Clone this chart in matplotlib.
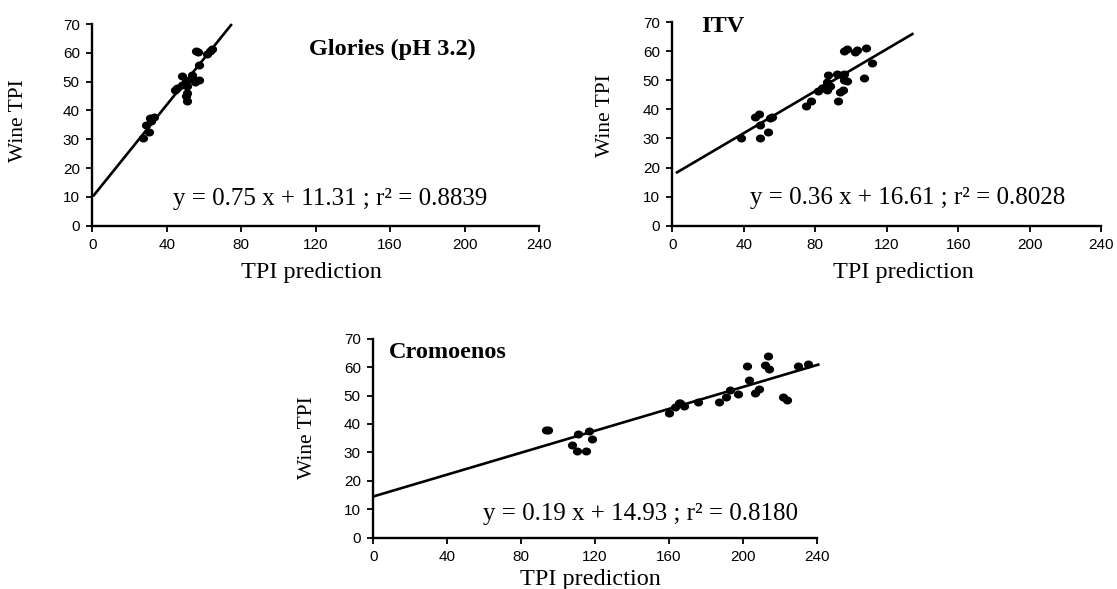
import numpy as np
import matplotlib.pyplot as plt

# Glories (pH 3.2)
glories_x = [27.0, 28.8, 30.4, 31.0, 33.1, 31.5, 44.4, 45.7, 48.0, 48.0, 50.3, 51.0,
             51.0, 50.7, 53.4, 53.9, 55.1, 57.5, 57.5, 56.0, 57.0, 61.4, 63.2, 64.6, 50.5]
glories_y = [30.3, 34.8, 32.5, 37.4, 37.6, 36.2, 47.0, 47.7, 52.0, 48.9, 50.3, 48.5,
             46.2, 43.2, 52.4, 50.9, 49.9, 50.5, 55.8, 60.5, 60.2, 59.7, 60.8, 61.2, 45.0]
glories_fit_x = [0.4, 75.0]
glories_fit_y = [10.2, 70.0]

# ITV
itv_x = [38.5, 46.3, 48.6, 49.1, 49.1, 53.8, 54.7, 55.6, 74.9, 77.7, 81.8, 83.6, 85.5,
         86.4, 87.3, 88.3, 86.8, 92.1, 92.6, 93.9, 95.4, 94.8, 96.1, 96.1, 97.6, 96.1,
         97.6, 102.3, 103.2, 108.5, 107.5, 111.7]
itv_y = [30.2, 37.5, 38.3, 34.6, 30.2, 32.3, 36.9, 37.5, 41.1, 43.0, 46.4, 47.2, 47.5,
         49.4, 51.7, 48.0, 46.8, 52.0, 43.0, 45.8, 46.6, 51.7, 52.0, 50.2, 49.7, 60.1,
         60.6, 59.8, 60.4, 61.2, 50.6, 55.8]
itv_fit_x = [2.0, 135.0]
itv_fit_y = [18.1, 66.1]

# Cromoenos
crom_x = [93.4, 94.7, 107.4, 111.0, 110.5, 115.0, 116.8, 118.5, 160.1, 163.3, 165.6,
          166.2, 168.2, 175.9, 187.3, 190.9, 193.1, 197.6, 202.1, 203.6, 206.6, 208.9,
          212.0, 213.8, 214.3, 221.9, 223.8, 230.0, 235.5]
crom_y = [38.0, 37.9, 32.6, 36.4, 30.6, 30.6, 37.6, 34.7, 43.7, 46.1, 47.3,
          47.5, 46.4, 47.8, 47.8, 49.6, 52.0, 50.5, 60.4, 55.5, 51.0, 52.2,
          60.7, 63.9, 59.2, 49.6, 48.4, 60.4, 61.1]
crom_fit_x = [0.0, 241.5]
crom_fit_y = [14.5, 61.0]

x_ticks = [0, 40, 80, 120, 160, 200, 240]
y_ticks = [0, 10, 20, 30, 40, 50, 60, 70]

panels = [
    dict(pos=[0.0826, 0.6168, 0.3999, 0.3424], x=glories_x, y=glories_y,
         fx=glories_fit_x, fy=glories_fit_y, title='Glories (pH 3.2)',
         tpos=(161, 61.2), tha='center', eq='y = 0.75 x + 11.31 ; r² = 0.8839',
         epos=(128, 9.3), xl=(0.49, -0.18), yl=(-0.144, 0.52)),
    dict(pos=[0.6019, 0.6168, 0.3838, 0.3458], x=itv_x, y=itv_y,
         fx=itv_fit_x, fy=itv_fit_y, title='ITV',
         tpos=(16, 68.4), tha='left', eq='y = 0.36 x + 16.61 ; r² = 0.8028',
         epos=(131.7, 9.4), xl=(0.54, -0.178), yl=(-0.133, 0.54)),
    dict(pos=[0.3342, 0.0871, 0.3970, 0.3379], x=crom_x, y=crom_y,
         fx=crom_fit_x, fy=crom_fit_y, title='Cromoenos',
         tpos=(8.3, 65.1), tha='left', eq='y = 0.19 x + 14.93 ; r² = 0.8180',
         epos=(144.6, 8.5), xl=(0.49, -0.155), yl=(-0.126, 0.505)),
]

serif = 'Liberation Serif'
sans = 'Liberation Sans'

t = np.linspace(0, 2 * np.pi, 40)
dot = np.column_stack([1.15 * np.cos(t), np.sin(t)])

fig = plt.figure(figsize=(11.17, 5.89), dpi=100)

for p in panels:
    ax = fig.add_axes(p['pos'])
    ax.scatter(p['x'], p['y'], marker=dot, s=44, color='black', linewidths=0, zorder=3)
    ax.plot(p['fx'], p['fy'], color='black', lw=1.9, clip_on=False, solid_capstyle='butt')
    ax.set_xlim(0, 240)
    ax.set_ylim(0, 70)
    ax.set_xticks(x_ticks)
    ax.set_yticks(y_ticks)
    for s in ['top', 'right']:
        ax.spines[s].set_visible(False)
    for s in ['left', 'bottom']:
        ax.spines[s].set_linewidth(1.7)
    ax.tick_params(direction='out', length=4, width=1.3, labelsize=11, pad=5)
    for lab in ax.get_xticklabels() + ax.get_yticklabels():
        lab.set_family(sans)
    ax.set_xlabel('TPI prediction', family=serif, fontsize=17.5)
    ax.set_ylabel('Wine TPI', family=serif, fontsize=15.5)
    ax.xaxis.set_label_coords(*p['xl'])
    ax.yaxis.set_label_coords(*p['yl'])
    ax.text(p['tpos'][0], p['tpos'][1], p['title'], family=serif, fontweight='bold',
            fontsize=17.5, ha=p['tha'], va='center')
    ax.text(p['epos'][0], p['epos'][1], p['eq'], family=serif, fontsize=18,
            ha='center', va='center')

fig.savefig('out.png', dpi=100)
